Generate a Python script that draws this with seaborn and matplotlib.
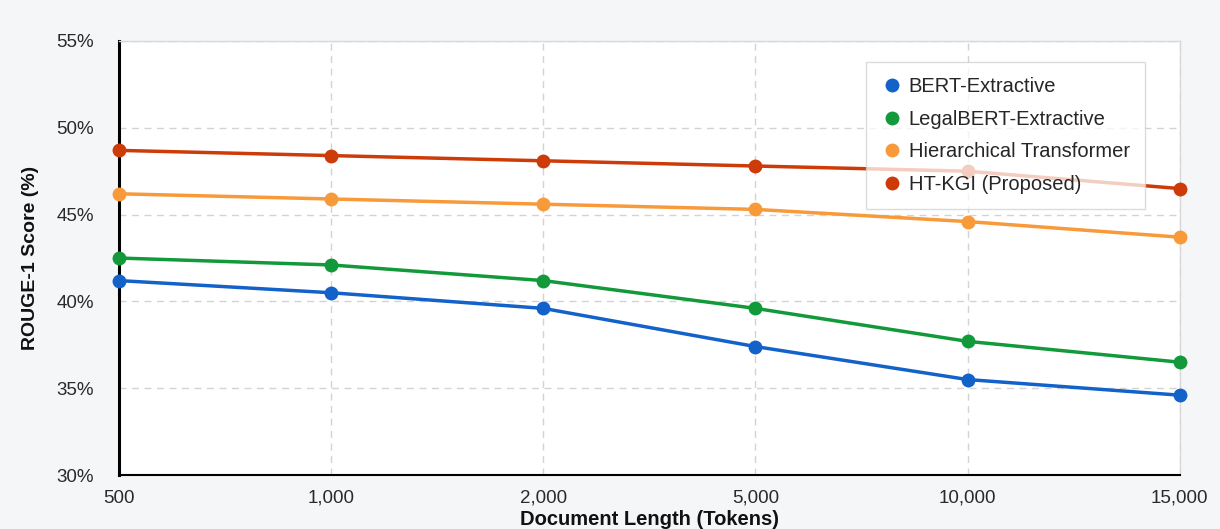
import pandas as pd
import matplotlib.pyplot as plt
import matplotlib.ticker as mticker
from matplotlib.lines import Line2D
import seaborn as sns

# document lengths (tokens) and ROUGE-1 scores
lengths = ["500", "1,000", "2,000", "5,000", "10,000", "15,000"]
bert = [41.2, 40.5, 39.6, 37.4, 35.5, 34.6]
legalbert = [42.5, 42.1, 41.2, 39.6, 37.7, 36.5]
hier = [46.2, 45.9, 45.6, 45.3, 44.6, 43.7]
htkgi = [48.7, 48.4, 48.1, 47.8, 47.5, 46.5]

models = ["BERT-Extractive", "LegalBERT-Extractive",
          "Hierarchical Transformer", "HT-KGI (Proposed)"]
colors = ["#1262c9", "#11993a", "#f89a3a", "#cc3b08"]

df = pd.concat([
    pd.DataFrame({"length": lengths, "score": vals, "model": m})
    for m, vals in zip(models, [bert, legalbert, hier, htkgi])
])

sns.set_style("white")
plt.rcParams['font.family'] = ['Liberation Sans', 'DejaVu Sans']

fig = plt.figure(figsize=(12.2, 5.29), dpi=100)
fig.patch.set_facecolor("#f5f6f8")
ax = fig.add_axes([0.0975, 0.102, 0.8695, 0.8205])
ax.set_facecolor("white")

sns.lineplot(data=df, x="length", y="score", hue="model", hue_order=models,
             palette=colors, marker="o", markersize=10, markeredgewidth=0,
             linewidth=2.5, sort=False, legend=False, ax=ax)
for ln in ax.lines:
    ln.set_clip_on(False)
    ln.set_zorder(3)

ax.set_xlim(0, len(lengths) - 1)
ax.set_ylim(30, 55)
ax.set_yticks([30, 35, 40, 45, 50, 55])
ax.yaxis.set_major_formatter(mticker.FuncFormatter(lambda v, p: f"{v:.0f}%"))
ax.set_xticks(range(len(lengths)))
ax.set_xticklabels(lengths)

ax.grid(True, color="#d3d3d3", linestyle=(0, (5, 4)), linewidth=1)
ax.set_axisbelow(True)
ax.tick_params(axis="both", labelsize=13.5, width=1, color="#555555",
               direction="out")
ax.tick_params(axis="y", length=6, pad=12)
ax.tick_params(axis="x", length=5, pad=5.5)
for lab in ax.get_xticklabels() + ax.get_yticklabels():
    lab.set_color("#2a2a2a")

for s in ["top", "right"]:
    ax.spines[s].set_color("#d8d8d8")
    ax.spines[s].set_linewidth(1)
ax.spines["left"].set_color("black")
ax.spines["left"].set_linewidth(2.2)
ax.spines["bottom"].set_color("black")
ax.spines["bottom"].set_linewidth(1.5)

ax.set_xlabel("Document Length (Tokens)", fontsize=14.5, fontweight="bold",
              color="#111111", va="center")
ax.set_ylabel("ROUGE-1 Score (%)", fontsize=14, fontweight="bold",
              color="#111111")
ax.xaxis.set_label_coords(0.5, -0.103)
ax.yaxis.set_label_coords(-0.075, 0.5)

handles = [Line2D([], [], marker="o", linestyle="none", color=c,
                  markersize=10, markeredgewidth=0) for c in colors]
leg = ax.legend(handles, models, loc="upper right",
                bbox_to_anchor=(0.967, 0.952), fontsize=14.5, frameon=True,
                fancybox=False, edgecolor="#d0d0d0", framealpha=0.75,
                labelspacing=0.68, handletextpad=0.25, handlelength=1.1,
                borderpad=0.75, borderaxespad=0)
leg.get_frame().set_linewidth(1)
leg.set_zorder(5)

fig.savefig("out.png", dpi=100, facecolor=fig.get_facecolor())
